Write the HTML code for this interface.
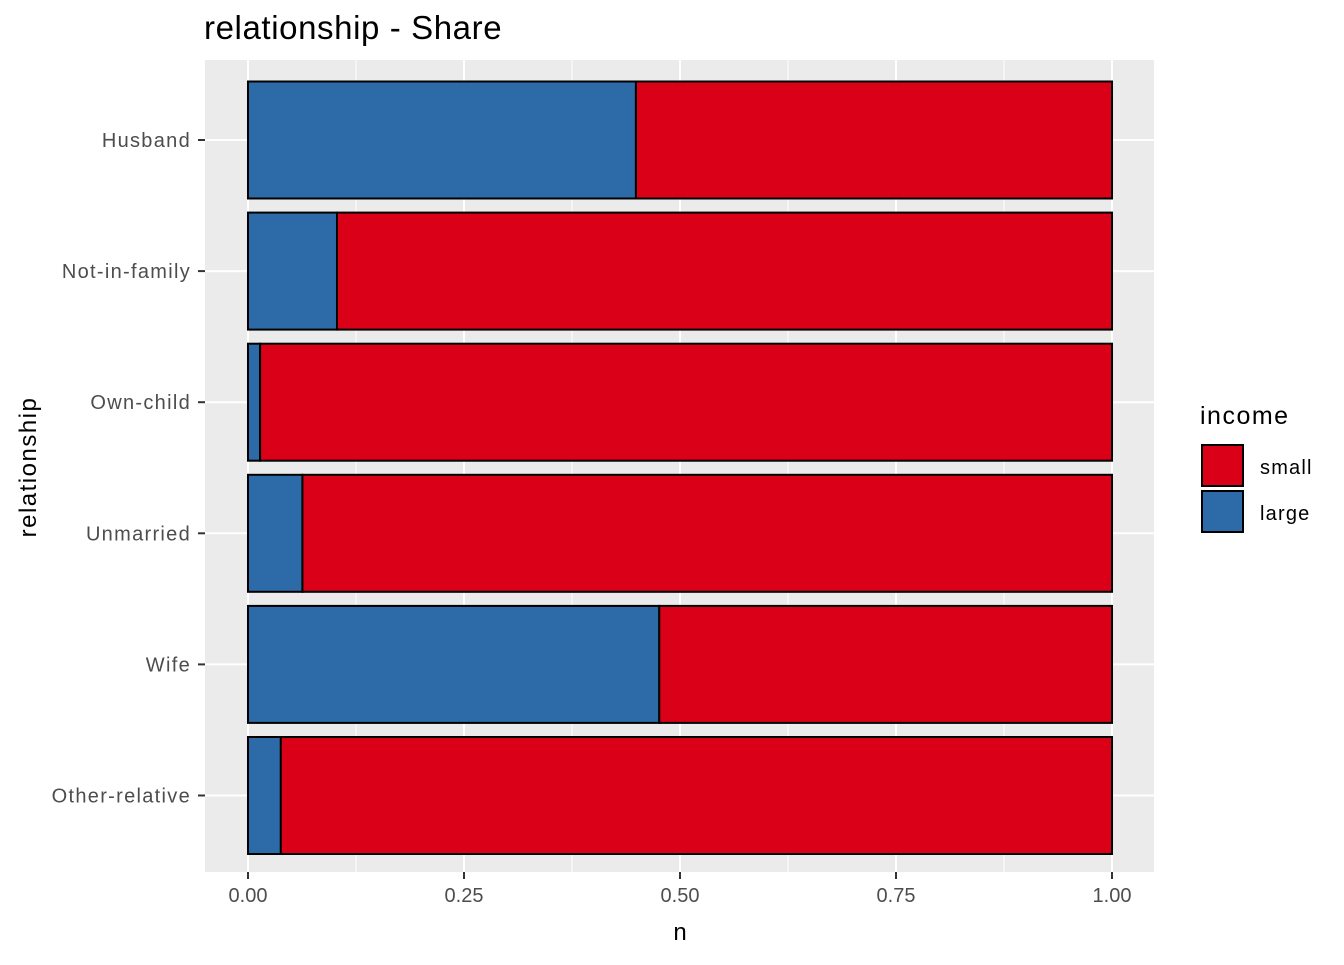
<!DOCTYPE html>
<html><head><meta charset="utf-8"><style>
body{margin:0;background:#fff;}
svg text{font-family:"Liberation Sans",Arial,sans-serif;}
</style></head><body>
<svg id="chart" width="1344" height="960" xmlns="http://www.w3.org/2000/svg">
<text x="204" y="39" font-size="33" letter-spacing="0.6" fill="#000">relationship - Share</text>
<rect x="205" y="60" width="949" height="812" fill="#ebebeb"/>
<g id="grid"></g>
<g id="bars"></g>
<g id="axes"></g>
<text x="680" y="940" font-size="24" text-anchor="middle" fill="#000">n</text>
<text transform="translate(36,467) rotate(-90)" font-size="24" letter-spacing="1.5" text-anchor="middle" fill="#000">relationship</text>
<g>
<text x="1200" y="424" font-size="25" letter-spacing="1.5" fill="#000">income</text>
<rect x="1202" y="445" width="41" height="41" fill="#da0018" stroke="#000" stroke-width="2"/>
<text x="1260" y="474" font-size="20" letter-spacing="1.2" fill="#000">small</text>
<rect x="1202" y="491" width="41" height="41" fill="#2d6aa8" stroke="#000" stroke-width="2"/>
<text x="1260" y="520" font-size="20" letter-spacing="1.2" fill="#000">large</text>
</g>
</svg>
<script>
const categories=["Husband","Not-in-family","Own-child","Unmarried","Wife","Other-relative"];
const largeShare=[0.449,0.103,0.014,0.063,0.476,0.038];
const xTicks=[0,0.25,0.5,0.75,1];
const xTickLabels=["0.00","0.25","0.50","0.75","1.00"];
const NS="http://www.w3.org/2000/svg";
const xs=v=>248+v*864;
const ys=i=>140+i*131.1;
function mk(tag,attrs,parent){const e=document.createElementNS(NS,tag);for(const k in attrs)e.setAttribute(k,attrs[k]);parent.appendChild(e);return e;}
const grid=document.getElementById('grid'),bars=document.getElementById('bars'),axes=document.getElementById('axes');
for(let i=0;i<xTicks.length-1;i++){const v=(xTicks[i]+xTicks[i+1])/2;
 const l=mk('line',{x1:xs(v),x2:xs(v),y1:60,y2:872,stroke:'#fff','stroke-width':1},grid);
 
 }
xTicks.forEach((v,i)=>{
 const l=mk('line',{x1:xs(v),x2:xs(v),y1:60,y2:872,stroke:'#fff','stroke-width':2},grid);
 
 
 const t=mk('line',{x1:xs(v),x2:xs(v),y1:872,y2:879,stroke:'#333','stroke-width':2},axes);
 
 
 const tx=mk('text',{x:xs(v),y:902,'font-size':20,'text-anchor':'middle',fill:'#4d4d4d'},axes);
 tx.textContent=xTickLabels[i];
 
 
});
categories.forEach((c,i)=>{
 const y=ys(i);
 const g=mk('line',{x1:205,x2:1154,y1:y,y2:y,stroke:'#fff','stroke-width':2},grid);
 
 
 const t=mk('line',{x1:198,x2:205,y1:y,y2:y,stroke:'#333','stroke-width':2},axes);
 
 
 const tx=mk('text',{x:191,y:y+7,'font-size':20,'letter-spacing':1.3,'text-anchor':'end',fill:'#4d4d4d'},axes);
 tx.textContent=c;
 
 
 const h=117,top=y-h/2;
 const b1=mk('rect',{x:xs(0),y:top,width:xs(largeShare[i])-xs(0),height:h,fill:'#2d6aa8',stroke:'#000','stroke-width':2},bars);
 
 
 const b2=mk('rect',{x:xs(largeShare[i]),y:top,width:xs(1)-xs(largeShare[i]),height:h,fill:'#da0018',stroke:'#000','stroke-width':2},bars);
 
 
});
</script>
</body></html>
